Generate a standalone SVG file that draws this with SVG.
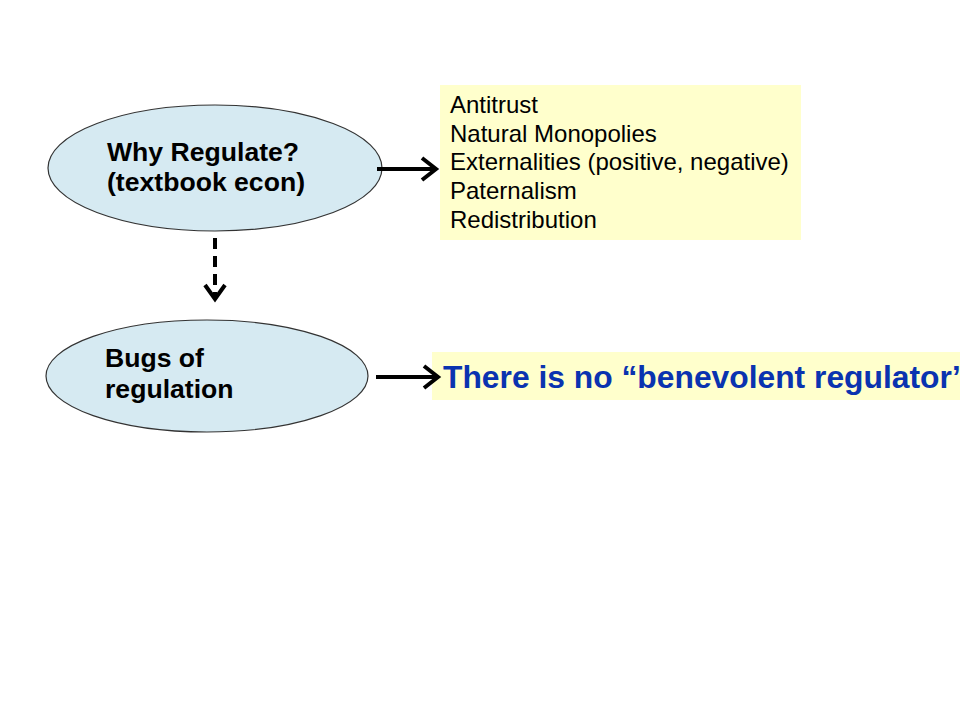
<svg xmlns="http://www.w3.org/2000/svg" width="960" height="720" viewBox="0 0 960 720">
<defs>
<style>
.node{fill:#d6eaf2;stroke:#333;stroke-width:1.2}
.lbl{font-family:"Liberation Sans",Arial,sans-serif;font-weight:bold;font-size:26.6px;fill:#000}
.item{font-family:"Liberation Sans",Arial,sans-serif;font-size:24px;fill:#000}
.box{fill:#ffffcc}
.conn{stroke:#000;stroke-width:4;fill:none}
</style>
</defs>
<rect width="960" height="720" fill="#fff"/>
<g id="why">
<ellipse class="node" cx="215" cy="168" rx="167" ry="63"/>
<text class="lbl" x="107" y="161">Why Regulate?</text>
<text class="lbl" x="107" y="191">(textbook econ)</text>
</g>
<g id="reasons">
<rect class="box" x="440" y="85" width="361" height="155"/>
<text class="item" x="450" y="113">Antitrust</text>
<text class="item" x="450" y="142">Natural Monopolies</text>
<text class="item" x="450" y="170">Externalities (positive, negative)</text>
<text class="item" x="450" y="199">Paternalism</text>
<text class="item" x="450" y="228">Redistribution</text>
</g>
<g id="bugs">
<ellipse class="node" cx="207" cy="376" rx="161" ry="56"/>
<text class="lbl" x="105" y="367">Bugs of</text>
<text class="lbl" x="105" y="398">regulation</text>
</g>
<g id="nobenevolent">
<rect class="box" x="432" y="352" width="540" height="48"/>
<text x="443" y="388" font-family="'Liberation Sans',Arial,sans-serif" font-weight="bold" font-size="31.8" fill="#0a33b0">There is no “benevolent regulator”</text>
</g>
<g id="connectors">
<line class="conn" x1="377" y1="169" x2="434" y2="169"/>
<path d="M422,158 L436,169 L422,180" class="conn"/>
<line class="conn" x1="376" y1="377" x2="436" y2="377"/>
<path d="M424,366 L438,377 L424,388" class="conn"/>
<line class="conn" x1="215" y1="238" x2="215" y2="298" stroke-dasharray="11,7"/>
<path d="M205,285 L215,299 L225,285" class="conn"/>
</g>
</svg>
